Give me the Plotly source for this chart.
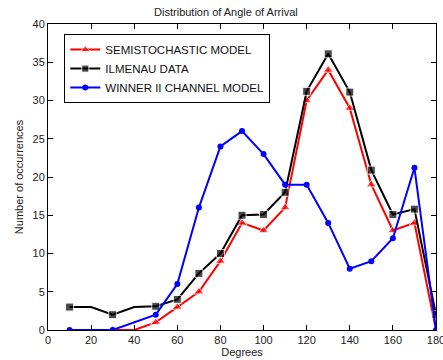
import plotly.graph_objects as go

degrees = [10, 20, 30, 40, 50, 60, 70, 80, 90, 100, 110, 120, 130, 140, 150, 160, 170, 180]

semi_x = [30, 40, 50, 60, 70, 80, 90, 100, 110, 120, 130, 140, 150, 160, 170, 180]
semi_y = [0, 0, 1, 3, 5, 9, 14, 13, 16, 30, 34, 29, 19, 13, 14, 0]
semi_marker = [True, False, True, True, True, True, True, True, True, True, True, True, True, True, True, True]

ilm_y = [3, 3, 2, 3, 3.1, 4, 7.4, 10, 15, 15.1, 18, 31.2, 36.1, 31.1, 20.9, 15.1, 15.8, 2]
ilm_marker = [True, False, True, False, True, True, True, True, True, True, True, True, True, True, True, True, True, True]

win_x = [10, 30, 50, 60, 70, 80, 90, 100, 110, 120, 130, 140, 150, 160, 170, 180]
win_y = [0, 0, 2, 6, 16, 24, 26, 23, 19, 19, 14, 8, 9, 12, 21.2, 0]

x_ticks = list(range(0, 181, 20))
y_ticks = list(range(0, 41, 5))

fig = go.Figure()
fig.add_trace(go.Scatter(
    x=semi_x, y=semi_y, mode="lines+markers", name="SEMISTOCHASTIC MODEL",
    line=dict(color="#ff0000", width=2),
    marker=dict(symbol="triangle-up", color="#ff0000",
                size=[9 if m else 0 for m in semi_marker]),
))
fig.add_trace(go.Scatter(
    x=degrees, y=ilm_y, mode="lines+markers", name="ILMENAU DATA",
    line=dict(color="#000000", width=2),
    marker=dict(symbol="square", color="#000000",
                size=[8 if m else 0 for m in ilm_marker]),
))
fig.add_trace(go.Scatter(
    x=win_x, y=win_y, mode="lines+markers", name="WINNER II CHANNEL MODEL",
    line=dict(color="#0000ff", width=2),
    marker=dict(symbol="circle", color="#0000ff", size=6),
))

axis_common = dict(
    showline=True, linecolor="black", linewidth=1, mirror="ticks",
    ticks="inside", ticklen=5, tickcolor="black", showgrid=False,
    zeroline=False, tickfont=dict(size=11, color="#222"), automargin=False,
    ticklabeloverflow="allow",
)

fig.update_layout(
    width=443, height=360,
    margin=dict(l=47.5, r=7, t=24, b=30),
    paper_bgcolor="white", plot_bgcolor="white",
    font=dict(family="Liberation Sans, Arial, sans-serif", size=11, color="#222"),
    title=dict(text="Distribution of Angle of Arrival", x=0.51, xanchor="center",
               y=0.967, yanchor="middle", font=dict(size=11)),
    xaxis=dict(range=[0, 180], tickvals=x_ticks,
               title=dict(text="Degrees", standoff=2, font=dict(size=11)), **axis_common),
    yaxis=dict(range=[0, 40], tickvals=y_ticks,
               title=dict(text="Number of occurrences", standoff=6, font=dict(size=11)), **axis_common),
    legend=dict(x=0.042, y=0.967, xanchor="left", yanchor="top",
                bordercolor="black", borderwidth=1, bgcolor="white",
                font=dict(size=11.5, color="#111"), tracegroupgap=0,
                itemwidth=30),
    showlegend=True,
)

fig.write_html("out.html", config={"displayModeBar": False},
               post_script="document.body.style.margin='0px';")
